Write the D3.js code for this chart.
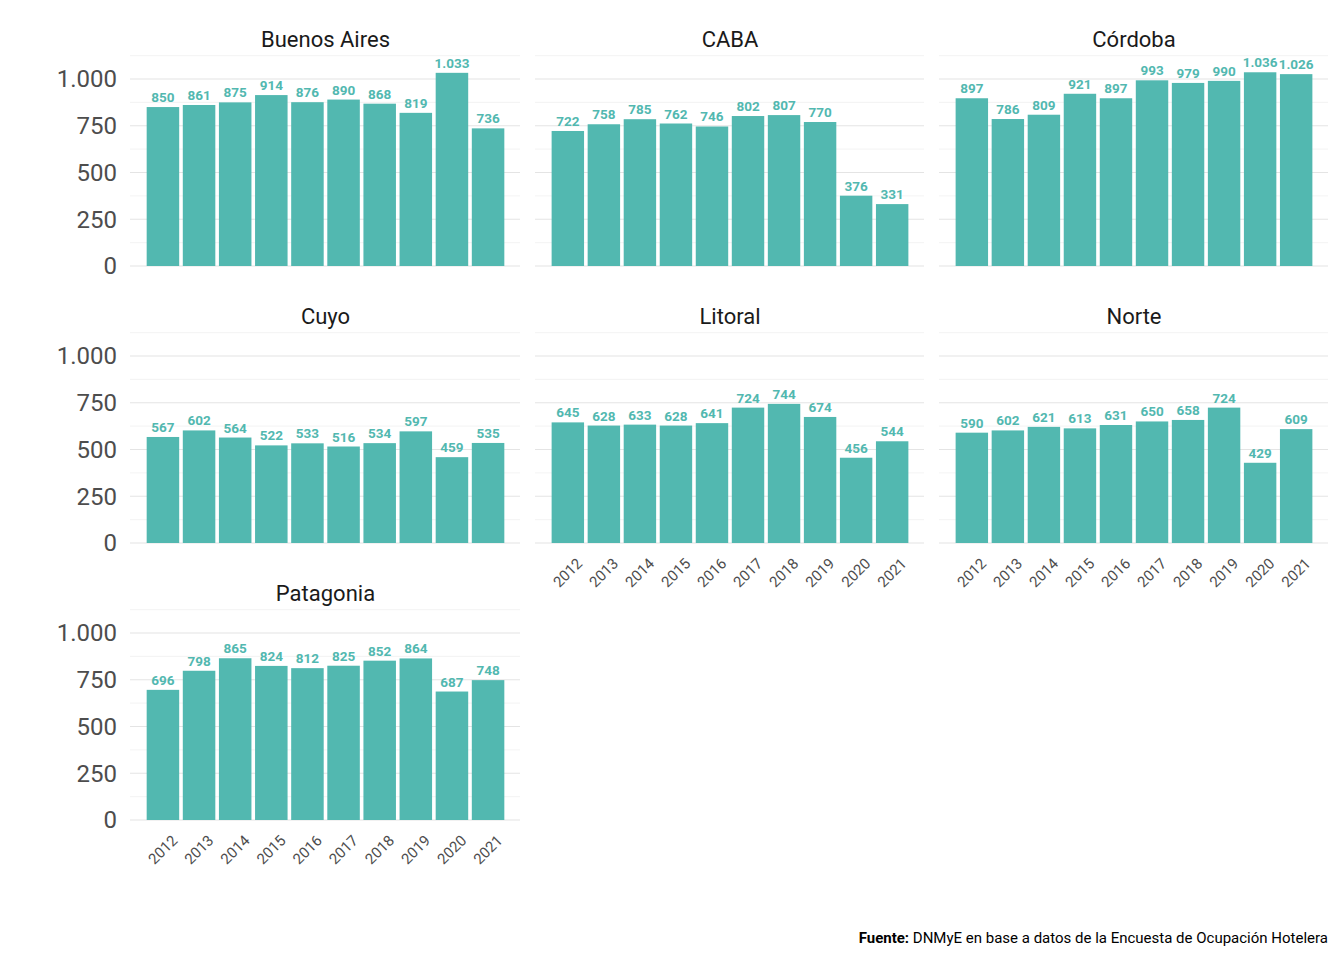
<!DOCTYPE html>
<html><head><meta charset="utf-8">
<script src="https://cdn.jsdelivr.net/npm/d3@7"></script>
<style>body{margin:0;background:#fff}</style>
</head><body>
<svg id="c" width="1344" height="960"></svg>
<script>
const years = ["2012","2013","2014","2015","2016","2017","2018","2019","2020","2021"];
const regions = ["Buenos Aires","CABA","Córdoba","Cuyo","Litoral","Norte","Patagonia"];
const buenosAires = [850,861,875,914,876,890,868,819,1033,736];
const caba = [722,758,785,762,746,802,807,770,376,331];
const cordoba = [897,786,809,921,897,993,979,990,1036,1026];
const cuyo = [567,602,564,522,533,516,534,597,459,535];
const litoral = [645,628,633,628,641,724,744,674,456,544];
const norte = [590,602,621,613,631,650,658,724,429,609];
const patagonia = [696,798,865,824,812,825,852,864,687,748];
const series = [buenosAires,caba,cordoba,cuyo,litoral,norte,patagonia];
const yTicks = [0,250,500,750,1000];

const svg = d3.select("#c");
const fill = "#52b8b0";
const fmt = d3.formatLocale({decimal:",",thousands:".",grouping:[3],currency:["$",""]}).format(",d");
const cols = [[125,526],[530,930],[934,1334]];
const rows = [266,543,820];
const h = 187;
const font = "Roboto, 'Liberation Sans', sans-serif";

regions.forEach((r,i) => {
  const col = i%3, row = Math.floor(i/3);
  const [x0,x1] = cols[col];
  const base = rows[row];
  const x = d3.scaleBand().domain(years).range([x0,x1]).paddingInner(0.1).paddingOuter(0.6);
  const y = d3.scaleLinear().domain([0,1000]).range([base, base-h]);
  const g = svg.append("g");
  // grid
  const gx0 = x0+5, gx1 = x1-6;
  d3.range(125,1126,250).forEach(v => g.append("line").attr("x1",gx0).attr("x2",gx1)
    .attr("y1",y(v)).attr("y2",y(v)).attr("stroke","#f0f0f0").attr("stroke-width",0.8));
  yTicks.forEach(v => g.append("line").attr("x1",gx0).attr("x2",gx1)
    .attr("y1",y(v)).attr("y2",y(v)).attr("stroke","#e4e4e4").attr("stroke-width",1.2));
  if (col===0) {
    yTicks.forEach(v => g.append("text").attr("x",117).attr("y",y(v)).attr("dy","0.35em")
      .attr("text-anchor","end").attr("font-family",font).attr("font-size",24).attr("fill","#4d4d4d").text(fmt(v)));
  }
  g.append("text").attr("x",(x0+x1)/2+0).attr("y",base-h-32).attr("text-anchor","middle")
    .attr("font-family",font).attr("font-size",22).attr("fill","#1a1a1a").text(r);
  const d = series[i];
  g.selectAll("rect").data(d).join("rect")
    .attr("x",(v,k)=>x(years[k])).attr("width",x.bandwidth())
    .attr("y",v=>y(v)).attr("height",v=>base-y(v)).attr("fill",fill);
  g.selectAll("text.v").data(d).join("text").attr("class","v")
    .attr("x",(v,k)=>x(years[k])+x.bandwidth()/2).attr("y",v=>y(v)-5)
    .attr("text-anchor","middle").attr("font-family",font).attr("font-size",13.5)
    .attr("font-weight","bold").attr("fill",fill).text(v=>fmt(v));
  if (i>=4 || i===6) {
    years.forEach(yr => {
      const cx = x(yr)+x.bandwidth()/2+8, cy = base+14;
      g.append("text").attr("transform",`translate(${cx},${cy}) rotate(-45)`)
        .attr("text-anchor","end").attr("dy","0.7em").attr("font-family",font).attr("font-size",15)
        .attr("fill","#4d4d4d").text(yr);
    });
  }
});
const cap = svg.append("text").attr("x",1328).attr("y",943).attr("text-anchor","end")
  .attr("font-family",font).attr("font-size",15).attr("fill","#000");
cap.append("tspan").attr("font-weight","bold").text("Fuente:");
cap.append("tspan").text(" DNMyE en base a datos de la Encuesta de Ocupación Hotelera");
</script>
</body></html>
